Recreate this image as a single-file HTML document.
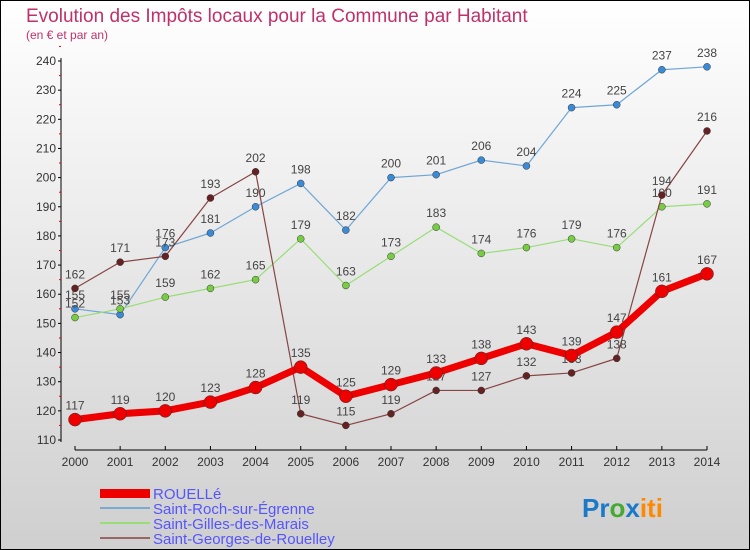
<!DOCTYPE html>
<html><head><meta charset="utf-8"><style>
body{margin:0}
svg{display:block;font-family:"Liberation Sans",sans-serif}
</style></head><body>
<svg id="c" width="750" height="550" viewBox="0 0 750 550" xmlns="http://www.w3.org/2000/svg">
<defs><linearGradient id="bg" x1="0" y1="0" x2="0" y2="1"><stop offset="0" stop-color="#ffffff"/><stop offset="1" stop-color="#cfcfcf"/></linearGradient></defs>
<rect x="0.5" y="0.5" width="749" height="549" fill="url(#bg)" stroke="#000"/>
<text x="26" y="22" font-size="19" fill="#c0306a">Evolution des Impôts locaux pour la Commune par Habitant</text>
<text x="26" y="39" font-size="12" fill="#c0306a">(en € et par an)</text>
<g id="axes"></g><g id="series"></g>
<g>
<rect x="100" y="489" width="50" height="9" fill="#ee0000"/>
<text x="153" y="499" font-size="15" fill="#5555ff">ROUELLé</text>
<line x1="100" y1="508" x2="150" y2="508" stroke="#7aaad0" stroke-width="2"/>
<text x="153" y="514" font-size="15" fill="#5555ff">Saint-Roch-sur-Égrenne</text>
<line x1="100" y1="523" x2="150" y2="523" stroke="#99dd77" stroke-width="2"/>
<text x="153" y="529" font-size="15" fill="#5555ff">Saint-Gilles-des-Marais</text>
<line x1="100" y1="538" x2="150" y2="538" stroke="#996666" stroke-width="2"/>
<text x="153" y="544" font-size="15" fill="#5555ff">Saint-Georges-de-Rouelley</text>
</g>
<text x="582" y="517" font-size="26" font-weight="bold"><tspan fill="#1a7ac8">Pr</tspan><tspan fill="#44aa33">o</tspan><tspan fill="#1a7ac8">x</tspan><tspan fill="#ff8800">iti</tspan></text>
</svg>
<script>
const years=[2000,2001,2002,2003,2004,2005,2006,2007,2008,2009,2010,2011,2012,2013,2014];
const rouelle=[117,119,120,123,128,135,125,129,133,138,143,139,147,161,167];
const saintRoch=[155,153,176,181,190,198,182,200,201,206,204,224,225,237,238];
const saintGilles=[152,155,159,162,165,179,163,173,183,174,176,179,176,190,191];
const saintGeorges=[162,171,173,193,202,119,115,119,127,127,132,133,138,194,216];
const yTicks=[110,120,130,140,150,160,170,180,190,200,210,220,230,240];
const NS="http://www.w3.org/2000/svg";
const x=i=>75+(707-75)*i/(years.length-1);
const y=v=>440-(v-110)*(440-61)/130;
function mk(t,a,p){const e=document.createElementNS(NS,t);for(const k in a)e.setAttribute(k,a[k]);p.appendChild(e);return e;}
const ax=document.getElementById('axes');
const yl=mk('line',{x1:61,y1:58,x2:61,y2:442,stroke:'#000'},ax);


yTicks.forEach(v=>{
 mk('line',{x1:58,x2:61,y1:y(v),y2:y(v),stroke:'#000'},ax);
 mk('line',{x1:59,x2:61,y1:y(v+5),y2:y(v+5),stroke:'#e00'},ax);
 const t=mk('text',{x:56,y:y(v)+4,'text-anchor':'end','font-size':12,fill:'#333'},ax);t.textContent=v;
 
 
});
const xl=mk('line',{x1:75,y1:450,x2:707,y2:450,stroke:'#000'},ax);


years.forEach((yr,i)=>{
 mk('line',{x1:x(i),x2:x(i),y1:446,y2:450,stroke:'#000'},ax);
 const t=mk('text',{x:x(i),y:466,'text-anchor':'middle','font-size':12,fill:'#333'},ax);t.textContent=yr;
 
 
});
const sg=document.getElementById('series');
function series(vals,color,w,r,name,dot){
 const g=mk('g',{},sg);
 
 
 mk('polyline',{points:vals.map((v,i)=>x(i)+','+y(v)).join(' '),fill:'none',stroke:color,'stroke-width':w,'stroke-linejoin':'round'},g);
 vals.forEach((v,i)=>{
  const c=mk('circle',{cx:x(i),cy:y(v),r:r,fill:dot,stroke:'#333','stroke-width':0.5},g);
  
  
  const t=mk('text',{x:x(i),y:y(v)-10,'text-anchor':'middle','font-size':12,fill:'#444'},g);t.textContent=v;
  
  
 });
}
series(saintRoch,'#6fa6d6',1.2,3.5,'series-saint-roch','#3b8ad6');
series(saintGilles,'#99dd77',1.2,3.5,'series-saint-gilles','#77cc44');
series(saintGeorges,'#884444',1.2,3.5,'series-saint-georges','#662222');
series(rouelle,'#ee0000',7,6.5,'series-rouelle','#ee0000');
</script>
</body></html>
